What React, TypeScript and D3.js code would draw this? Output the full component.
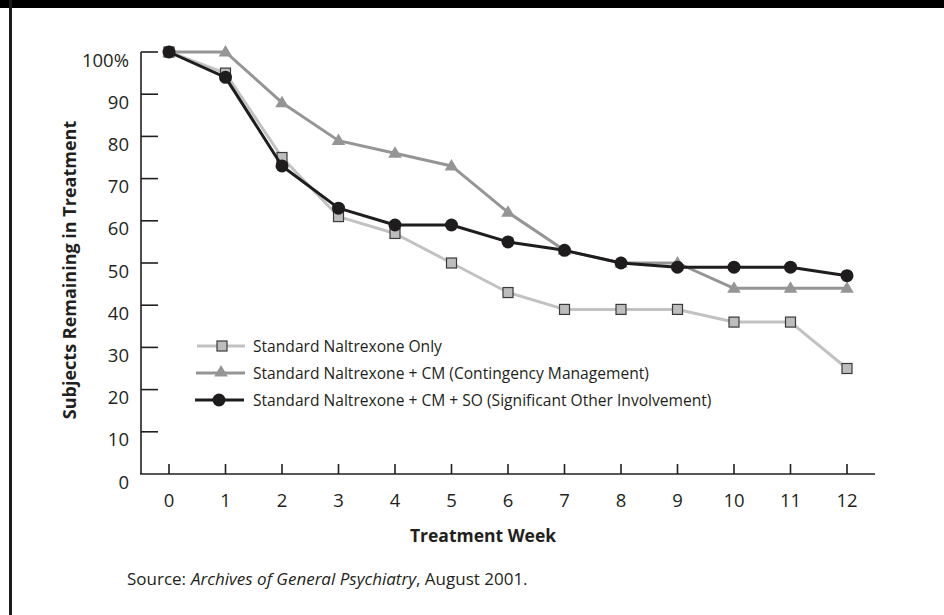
import React from "react";
import * as d3 from "d3";

const weeks = [0, 1, 2, 3, 4, 5, 6, 7, 8, 9, 10, 11, 12];
const naltrexoneOnly = [100, 95, 75, 61, 57, 50, 43, 39, 39, 39, 36, 36, 25];
const naltrexoneCM = [100, 100, 88, 79, 76, 73, 62, 53, 50, 50, 44, 44, 44];
const naltrexoneCMSO = [100, 94, 73, 63, 59, 59, 55, 53, 50, 49, 49, 49, 47];
const yTicks = [0, 10, 20, 30, 40, 50, 60, 70, 80, 90, 100];
const legendLabels = [
  "Standard Naltrexone Only",
  "Standard Naltrexone + CM (Contingency Management)",
  "Standard Naltrexone + CM + SO (Significant Other Involvement)",
];

const W = 944;
const H = 615;
const FONT = "'Open Sans', 'Noto Sans', sans-serif";

export default function App() {
  const x = d3.scaleLinear().domain([0, 12]).range([169, 847]);
  const y = d3.scaleLinear().domain([0, 100]).range([474, 52]);
  const line = d3
    .line<number>()
    .x((_, i) => x(weeks[i]))
    .y((d) => y(d));

  const sqColor = "#c2c2c2";
  const triColor = "#959595";
  const cirColor = "#1e1c1c";
  const ink = "#231f20";

  const square = (cx: number, cy: number, key: string) => (
    <rect key={key} x={cx - 5} y={cy - 5} width={10} height={10} fill="#bdbdbd" stroke="#3a3a3a" strokeWidth={1.2} />
  );
  const tri = (cx: number, cy: number, key: string) => (
    <path key={key} d={`M${cx},${cy - 7}L${cx + 6.8},${cy + 4.5}L${cx - 6.8},${cy + 4.5}Z`} fill={triColor} />
  );
  const circ = (cx: number, cy: number, key: string) => (
    <circle key={key} cx={cx} cy={cy} r={6.5} fill={cirColor} />
  );

  const legendY = [346, 373, 400];

  return (
    <svg width={W} height={H} style={{ position: "absolute", left: 0, top: 0, background: "#fff" }} fontFamily={FONT}>
      <rect x={0} y={0} width={W} height={H} fill="#fff" />
      <rect x={0} y={0} width={W} height={8} fill="#000" />
      <rect x={9} y={0} width={3} height={H} fill="#1a1a1a" />

      {/* Y axis */}
      <line x1={141} x2={141} y1={y(100)} y2={y(0)} stroke={ink} strokeWidth={1.6} />
      {yTicks.map((t) => (
        <g key={t}>
          {t > 0 && <line x1={141} x2={158} y1={y(t)} y2={y(t)} stroke={ink} strokeWidth={1.6} />}
          <text x={129} y={y(t) + 14.5} textAnchor="end" fontSize={18.5} fill={ink}>
            {t === 100 ? "100%" : String(t)}
          </text>
        </g>
      ))}

      {/* X axis */}
      <line x1={140} x2={875} y1={y(0)} y2={y(0)} stroke={ink} strokeWidth={1.6} />
      {weeks.map((w) => (
        <g key={w}>
          <line x1={x(w)} x2={x(w)} y1={y(0) - 10} y2={y(0)} stroke={ink} strokeWidth={1.6} />
          <text x={x(w)} y={507} textAnchor="middle" fontSize={18.5} fill={ink}>
            {w}
          </text>
        </g>
      ))}

      <text x={483} y={542} textAnchor="middle" fontSize={17.5} fontWeight="bold" fill={ink}>
        Treatment Week
      </text>
      <text
        transform="translate(76,270) rotate(-90)"
        textAnchor="middle"
        fontSize={18}
        fontWeight="bold"
        fill={ink}
      >
        Subjects Remaining in Treatment
      </text>

      {/* series */}
      <path d={line(naltrexoneOnly) || ""} fill="none" stroke={sqColor} strokeWidth={3} strokeLinejoin="round" />
      {naltrexoneOnly.map((v, i) => square(x(weeks[i]), y(v), "s" + i))}
      <path d={line(naltrexoneCM) || ""} fill="none" stroke={triColor} strokeWidth={3} strokeLinejoin="round" />
      {naltrexoneCM.map((v, i) => tri(x(weeks[i]), y(v), "t" + i))}
      <path d={line(naltrexoneCMSO) || ""} fill="none" stroke={cirColor} strokeWidth={3} strokeLinejoin="round" />
      {naltrexoneCMSO.map((v, i) => circ(x(weeks[i]), y(v), "c" + i))}

      {/* legend */}
      <line x1={197} x2={245} y1={legendY[0]} y2={legendY[0]} stroke={sqColor} strokeWidth={3} />
      {square(222, legendY[0], "ls")}
      <line x1={196} x2={245} y1={legendY[1]} y2={legendY[1]} stroke={triColor} strokeWidth={3} />
      {tri(221, legendY[1] - 1, "lt")}
      <line x1={195} x2={244} y1={legendY[2]} y2={legendY[2]} stroke={cirColor} strokeWidth={3} />
      {circ(219, legendY[2], "lc")}
      {legendLabels.map((l, i) => (
        <text key={l} x={253} y={legendY[i] + 5.5} fontSize={15.6} fill={ink}>
          {l}
        </text>
      ))}

      <text x={127} y={585} fontSize={17} fill={ink}>
        <tspan>Source:</tspan>
        <tspan x={191} fontStyle="italic">Archives of General Psychiatry</tspan>
        <tspan>, August 2001.</tspan>
      </text>
    </svg>
  );
}
